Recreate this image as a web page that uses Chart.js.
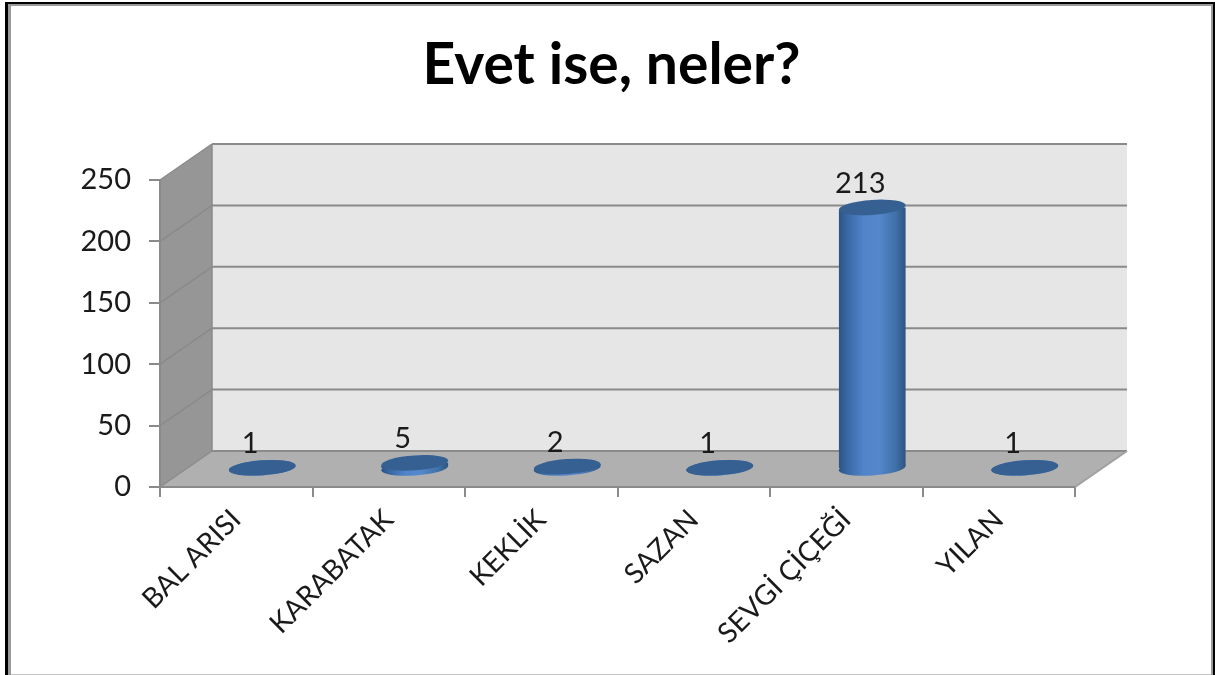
<!DOCTYPE html>
<html>
<head>
<meta charset="utf-8">
<title>Evet ise, neler?</title>
<script src="https://cdn.jsdelivr.net/npm/chart.js@4/dist/chart.umd.min.js"></script>
<style>
  html, body { margin: 0; padding: 0; background: #fff; }
  #wrap { width: 1215px; height: 675px; }
</style>
</head>
<body>
<div id="wrap"><canvas id="chart" width="1215" height="675"></canvas></div>
<script>
const CATEGORIES = ['BAL ARISI', 'KARABATAK', 'KEKLİK', 'SAZAN', 'SEVGİ ÇİÇEĞİ', 'YILAN'];
const VALUES = [1, 5, 2, 1, 213, 1];
const Y_MIN = 0;
const Y_MAX = 250;
const Y_STEP = 50;

// 3D look of the old Excel chart
const DEPTH_X = 52;
const DEPTH_Y = -36;
const BAR_RX = 33.5;
const BAR_RY = 7.5;
const TILT = -0.07;
const LINE = '#8a8a8a';

function poly(ctx, pts, fill) {
    ctx.beginPath();
    pts.forEach((p, i) => i ? ctx.lineTo(p[0], p[1]) : ctx.moveTo(p[0], p[1]));
    ctx.closePath();
    ctx.fillStyle = fill;
    ctx.fill();
}

function seg(ctx, x1, y1, x2, y2, color, w) {
    ctx.beginPath();
    ctx.moveTo(x1, y1);
    ctx.lineTo(x2, y2);
    ctx.strokeStyle = color;
    ctx.lineWidth = w;
    ctx.stroke();
}

function barGradient(ctx, cx, rx) {
    const g = ctx.createLinearGradient(cx - rx, 0, cx + rx, 0);
    g.addColorStop(0, '#2b5484');
    g.addColorStop(0.15, '#3b6ba8');
    g.addColorStop(0.38, '#5185ca');
    g.addColorStop(0.6, '#5487cb');
    g.addColorStop(0.85, '#3f70a8');
    g.addColorStop(1, '#2c5580');
    return g;
}

const framePlugin = {
    id: 'frame',
    beforeDraw(chart) {
        const ctx = chart.ctx;
        ctx.save();
        ctx.fillStyle = '#000';
        ctx.fillRect(5, 2, 1210, 2);
        ctx.fillRect(5, 2, 3, 673);
        ctx.fillRect(1213, 2, 2, 673);
        ctx.fillStyle = '#9a9a9a';
        ctx.fillRect(8, 4, 1205, 2);
        ctx.fillRect(8, 4, 3, 671);
        ctx.fillRect(1211, 4, 2, 671);
        ctx.fillStyle = '#c4c4c4';
        ctx.fillRect(11, 674, 1200, 1);
        ctx.restore();
    }
};

const wallsPlugin = {
    id: 'walls',
    beforeDatasetsDraw(chart) {
        const ctx = chart.ctx;
        const y = chart.scales.y;
        const { left, right } = chart.chartArea;
        const top = y.getPixelForValue(Y_MAX);
        const bottom = y.getPixelForValue(Y_MIN);
        const bl = left + DEPTH_X, br = right + DEPTH_X;

        ctx.save();
        poly(ctx, [[bl, top + DEPTH_Y], [br, top + DEPTH_Y], [br, bottom + DEPTH_Y], [bl, bottom + DEPTH_Y]], '#e6e6e6');
        poly(ctx, [[left, top], [bl, top + DEPTH_Y], [bl, bottom + DEPTH_Y], [left, bottom]], '#969696');
        poly(ctx, [[left, bottom], [right, bottom], [br, bottom + DEPTH_Y], [bl, bottom + DEPTH_Y]], '#b0b0b0');

        for (let v = Y_MIN; v <= Y_MAX; v += Y_STEP) {
            const py = y.getPixelForValue(v);
            seg(ctx, left, py, bl, py + DEPTH_Y, LINE, 1.5);
            seg(ctx, bl, py + DEPTH_Y, br, py + DEPTH_Y, LINE, 2);
        }
        seg(ctx, right, bottom, br, bottom + DEPTH_Y, '#a0a0a0', 2);
        seg(ctx, bl, top + DEPTH_Y, bl, bottom + DEPTH_Y, LINE, 1.5);
        seg(ctx, left, top, left, bottom, LINE, 2);
        seg(ctx, left, bottom, right, bottom, LINE, 2);
        ctx.restore();
    },
    // bars stand in the middle of the floor, so shift them half the depth
    beforeDatasetDraw(chart) {
        const ctx = chart.ctx;
        const meta = chart.getDatasetMeta(0);
        const lean = BAR_RX * Math.sin(TILT);
        ctx.save();
        ctx.translate(DEPTH_X / 2, DEPTH_Y / 2);
        meta.data.forEach(bar => {
            ctx.beginPath();
            ctx.ellipse(bar.x, bar.base, BAR_RX, BAR_RY, TILT, 0, Math.PI * 2);
            ctx.fillStyle = barGradient(ctx, bar.x, BAR_RX);
            ctx.fill();
        });
        // cut the square bar ends along the tilt of the ellipses
        ctx.save();
        ctx.beginPath();
        meta.data.forEach(bar => {
            ctx.moveTo(bar.x - BAR_RX, bar.y - lean);
            ctx.lineTo(bar.x + BAR_RX, bar.y + lean);
            ctx.lineTo(bar.x + BAR_RX, bar.base + lean);
            ctx.lineTo(bar.x - BAR_RX, bar.base - lean);
            ctx.closePath();
        });
        ctx.clip();
    },
    afterDatasetDraw(chart) {
        const ctx = chart.ctx;
        const meta = chart.getDatasetMeta(0);
        ctx.restore();
        meta.data.forEach((bar, i) => {
            ctx.beginPath();
            ctx.ellipse(bar.x, bar.y, BAR_RX, BAR_RY, TILT, 0, Math.PI * 2);
            ctx.fillStyle = '#376092';
            ctx.fill();
            ctx.fillStyle = '#1a1a1a';
            ctx.font = '29px Lato';
            ctx.textAlign = 'center';
            ctx.textBaseline = 'middle';
            ctx.fillText(String(VALUES[i]), bar.x - 12, bar.y - 24);
        });
        ctx.restore();
    }
};

new Chart(document.getElementById('chart'), {
    type: 'bar',
    data: {
        labels: CATEGORIES,
        datasets: [{
            data: VALUES,
            clip: false,
            categoryPercentage: 1,
            barPercentage: 0.44,
            backgroundColor: c => {
                // scales have no size yet on the first reset pass
                const cx = c.type === 'data' ? c.chart.scales.x.getPixelForValue(c.dataIndex) : NaN;
                return Number.isFinite(cx) ? barGradient(c.chart.ctx, cx, BAR_RX) : '#4a7ebb';
            }
        }]
    },
    options: {
        responsive: false,
        animation: false,
        layout: { padding: { left: 8, right: 0, top: 0, bottom: 0 } },
        plugins: {
            legend: { display: false },
            tooltip: { enabled: false },
            title: {
                display: true,
                text: 'Evet ise, neler?',
                color: '#000',
                font: { family: 'Lato', size: 57, weight: 'bold', lineHeight: 1.2 },
                padding: { top: 31, bottom: 80.6 }
            }
        },
        scales: {
            x: {
                grid: { drawOnChartArea: false, color: LINE, lineWidth: 2, tickLength: 10 },
                border: { color: LINE, width: 2 },
                ticks: {
                    color: '#1a1a1a',
                    font: { family: 'Lato', size: 28 },
                    minRotation: 45,
                    maxRotation: 45,
                    padding: 6,
                    autoSkip: false
                },
                afterFit: s => { s.height = 188; }
            },
            y: {
                min: Y_MIN,
                max: Y_MAX,
                grid: { drawOnChartArea: false, color: LINE, lineWidth: 2, tickLength: 11 },
                border: { color: LINE, width: 2 },
                ticks: {
                    stepSize: Y_STEP,
                    color: '#1a1a1a',
                    font: { family: 'Lato', size: 29 },
                    padding: 18
                },
                afterFit: s => { s.width = 152; }
            },
            // empty axis, keeps room for the depth on the right
            side: {
                position: 'right',
                grid: { display: false },
                border: { display: false },
                ticks: { display: false },
                afterFit: s => { s.width = 140; }
            }
        }
    },
    plugins: [framePlugin, wallsPlugin]
});
</script>
</body>
</html>
